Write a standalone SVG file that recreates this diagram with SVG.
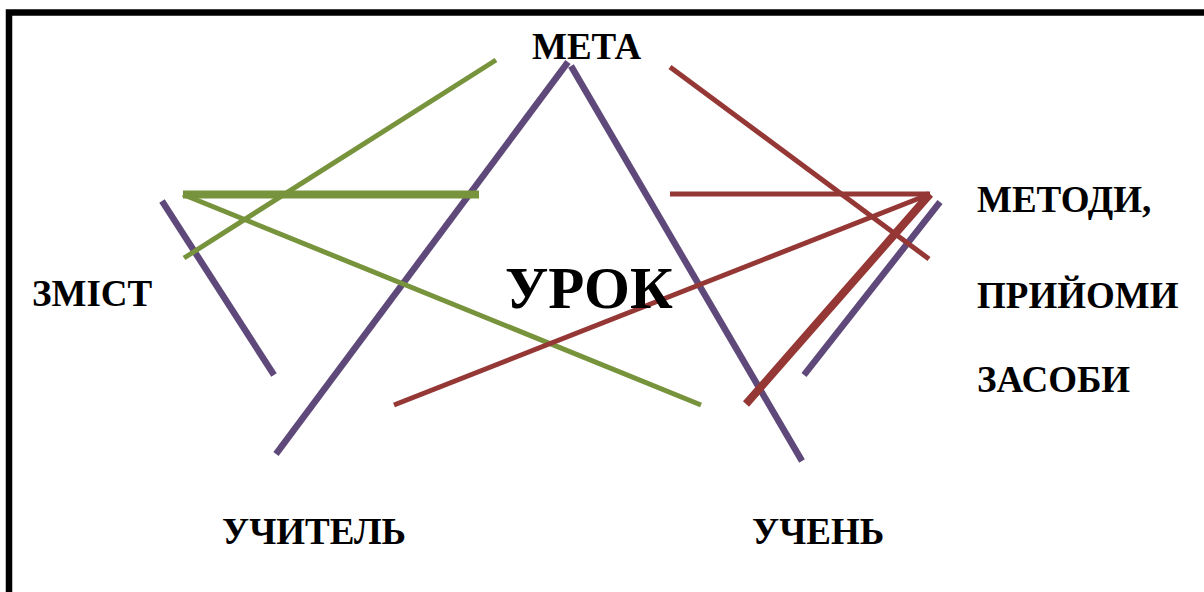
<svg xmlns="http://www.w3.org/2000/svg" width="1204" height="592" viewBox="0 0 1204 592">
<style>
.lbl{font-family:"Liberation Serif","Times New Roman",serif;font-weight:bold;font-size:37px;fill:#000}
.big{font-size:59px}
.p{stroke:#5f497a;stroke-width:6.5;fill:none}
.g{stroke:#77933c;stroke-width:5;fill:none}
.r{stroke:#953735;stroke-width:5;fill:none}
.thick{stroke-width:8}
</style>
<rect width="1204" height="592" fill="#fff"/>
<path d="M9,600 V12.5 H1210" fill="none" stroke="#000" stroke-width="6.5"/>
<g id="connectors">
<line class="p" x1="276" y1="454" x2="568" y2="62"/>
<line class="p" x1="571" y1="66" x2="802" y2="461"/>
<line class="p" x1="162" y1="201" x2="274" y2="375"/>
<line class="p" x1="940" y1="202" x2="804" y2="375"/>
<line class="g" x1="184" y1="258" x2="496" y2="60"/>
<line class="g thick" x1="183" y1="194.5" x2="479" y2="194.5"/>
<line class="g" x1="183" y1="194.5" x2="701" y2="405"/>
<line class="r" x1="670" y1="67" x2="929" y2="259"/>
<line class="r" x1="670" y1="194" x2="930" y2="194"/>
<line class="r" x1="394" y1="405" x2="930" y2="194"/>
<line class="r thick" x1="930" y1="194" x2="746" y2="404"/>
</g>
<g id="meta"><text class="lbl" x="532" y="59">МЕТА</text></g>
<g id="urok"><text class="lbl big" x="505" y="308">УРОК</text></g>
<g id="zmist"><text class="lbl" x="32" y="306">ЗМІСТ</text></g>
<g id="metody"><text class="lbl" x="977" y="212">МЕТОДИ,</text><text class="lbl" x="977" y="308">ПРИЙОМИ</text><text class="lbl" x="977" y="392">ЗАСОБИ</text></g>
<g id="uchytel"><text class="lbl" x="222" y="544">УЧИТЕЛЬ</text></g>
<g id="uchen"><text class="lbl" x="752" y="544">УЧЕНЬ</text></g>
</svg>
